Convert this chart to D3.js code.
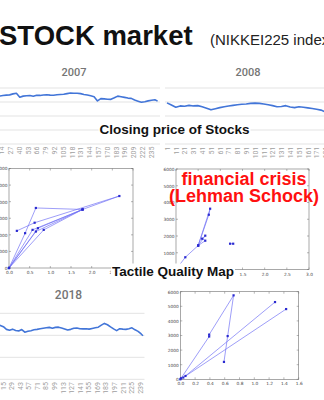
<!DOCTYPE html>
<html><head><meta charset="utf-8">
<script src="https://cdn.jsdelivr.net/npm/d3@7/dist/d3.min.js"></script>
<style>html,body{margin:0;padding:0;background:#fff;overflow:hidden}svg{display:block}</style>
</head><body>
<svg id="chart" width="324" height="400"></svg>
<script>
// ---------- texts ----------
const mainTitle = "STOCK market";
const subTitle = "(NIKKEI225 index)";
const sectionTitles = ["Closing price of Stocks", "Tactile Quality Map"];
const crisisLabel = ["financial crisis", "(Lehman Schock)"];
const yearTitles = ["2007", "2008", "2018"];

// ---------- closing prices (trading-day index, yen) ----------
const days2007 = [1,6,11,16,21,26,31,36,41,46,51,56,61,66,71,76,81,86,91,96,101,106,111,116,121,126,131,136,141,146,151,156,161,166,171,176,181,186,191,196,201,206,211,216,221,226,231,236,241,245];
const close2007 = [17350,17200,17100,17300,17450,17550,17900,18150,16700,17100,
                   17250,17300,17050,17400,17350,17500,17600,17450,17400,17600,
                   17700,17750,18000,18200,18100,18150,18000,17700,17500,17200,
                   16900,15400,16200,16100,16000,15950,16500,17100,16900,16650,
                   16400,16300,15700,15300,14900,15100,15400,15600,15800,15300];
const ticks2007 = [1,14,27,40,53,66,79,92,105,118,131,144,157,170,183,196,209,222,235];

const days2008 = [1,6,11,16,21,26,31,36,41,46,51,56,61,66,71,76,81,86,91,96,101,106,111,116,121,126,131,136,141,146,151,156,161,166,171,176,181,185];
const close2008 = [14700,13900,13100,13600,13500,13800,13600,13700,13300,12800,
                   12200,12600,13000,13300,13600,13800,14000,14200,14300,14500,
                   14600,14500,14300,14000,13700,13300,13400,13700,13200,13000,
                   13300,13100,12900,12700,12400,12100,11500,11300];
const ticks2008 = [1,11,21,31,41,51,61,71,81,91,101,111,121,131,141,151,161,171,181,191];

const days2018 = [1,6,11,16,21,26,31,36,41,46,51,56,61,66,71,76,81,86,91,96,101,106,111,116,121,126,131,136,141,146,151,156,161,166,171,176,181,186,191,196,201,206,211,216,221,226,231,236,241,244];
const close2018 = [23700,24000,24500,23900,22700,22300,22800,22200,22000,22600,
                   21400,21800,22100,22500,22700,23000,23200,23400,23600,23200,
                   23600,23700,23300,22900,22400,22700,23200,23300,23000,22900,
                   23000,22800,23100,23400,23700,24600,25400,24800,23800,22900,
                   22100,23000,22800,22700,23000,23400,22500,21800,20600,19800];
const ticks2018 = [1,15,29,43,57,71,85,99,113,127,141,155,169,183,197,211,225,239];

const grid2007 = [0,5000,10000,15000,20000];
const grid2018 = [0,10000,20000,30000];

// ---------- tactile quality maps (points in drawing order, null = break) ----------
const map2007X = [0, 0.84, 1.78, 0.70, 0, 0.65, 1.78, 0.57, 0, 0.39, 0.65, 1.78, 2.67, 0.62, 0.19];
const map2007Y = [0, 2300, 3530, 2400, 0, 2200, 3530, 2300, 0, 2100, 3620, 3530, 4340, 2730, 2240];
const map2008X = [0, 0.21, 0.50, 0.77, 0.74, 0.50, 0.66, 0.59, 0.66, 0.50, null, 1.22, 1.29];
const map2008Y = [0, 730, 1430, 3630, 3270, 1430, 2020, 1840, 1720, 1430, null, 1540, 1540];
const map2018X = [0, 0.01, 0.39, 0.39, 0.72, 0.64, 0.59, null, 0.07, 1.28, null, 0.04, 1.43];
const map2018Y = [0, 70, 2930, 3060, 5750, 2960, 1190, null, 230, 5290, null, 120, 4810];
const mapTicksX1 = [0, 0.5, 1.0, 1.5, 2.0, 2.5, 3.0];
const mapTicksX3 = [0, 0.2, 0.4, 0.6, 0.8, 1.0, 1.2, 1.4, 1.6];
const mapTicksY = [0, 1000, 2000, 3000, 4000, 5000, 6000];
// x tick labels left visible (the others sit under the "Tactile Quality Map" heading)
const mapLabelsX1 = [0, 0.5, 1.0, 1.5, 2.0, 2.5];
const mapLabelsX2 = [1.5, 2.0, 2.5, 3.0];
const mapLabelsX3 = mapTicksX3;

// ---------- drawing ----------
const svg = d3.select("#chart");
const SANS = "'Liberation Sans', Arial, Helvetica, sans-serif";
const ROBOTO = "Roboto, Arial, sans-serif";

function lineChart(o) {
  const x = d3.scaleLinear().domain([1, 245]).range(o.xr);
  const y = d3.scaleLinear().domain([0, o.ymax]).range(o.yr);
  const g = svg.append("g");
  g.selectAll("line.grid").data(o.grid).join("line")
    .attr("x1", o.gx[0]).attr("x2", o.gx[1])
    .attr("y1", d => y(d)).attr("y2", d => y(d))
    .attr("stroke", "#e3e3e3").attr("stroke-width", 1);
  const data = o.days.map((d, i) => ({d, v: o.vals[i]}));
  g.append("path").datum(data)
    .attr("d", d3.line().x(p => x(p.d)).y(p => y(p.v)))
    .attr("fill", "none").attr("stroke", "#4275d8").attr("stroke-width", 1.6)
    .attr("stroke-linejoin", "round");
  const ax = g.append("g").attr("transform", `translate(0,${o.labelY})`)
    .call(d3.axisBottom(x).tickValues(o.ticks).tickSize(0).tickFormat(d3.format("d")));
  ax.select(".domain").remove();
  ax.selectAll("text")
    .attr("transform", "rotate(-90)").attr("text-anchor", "end")
    .attr("x", 0).attr("y", 0).attr("dy", "0.33em")
    .attr("fill", "#a0a0a0").style("font-size", "7px").style("font-family", ROBOTO);
  g.append("text").attr("x", o.tx).attr("y", o.ty).attr("text-anchor", "middle")
    .attr("fill", "#757575").style("font-size", o.tsize + "px").style("font-family", ROBOTO)
    .style("font-weight", "500").text(o.title);
}

lineChart({days: days2007, vals: close2007, ticks: ticks2007, grid: grid2007, ymax: 20000,
  xr: [-7.25, 157.6], yr: [144, 88], gx: [-2, 160], labelY: 146.5,
  tx: 74, ty: 75.5, tsize: 11, title: yearTitles[0]});
lineChart({days: days2008, vals: close2008, ticks: ticks2008, grid: grid2007, ymax: 20000,
  xr: [167, 381.7], yr: [144, 88], gx: [165, 330], labelY: 146.5,
  tx: 248, ty: 75.5, tsize: 11, title: yearTitles[1]});
lineChart({days: days2018, vals: close2018, ticks: ticks2018, grid: grid2018, ymax: 30000,
  xr: [-5.8, 143.6], yr: [379.3, 313.3], gx: [-2, 144.5], labelY: 382,
  tx: 68.5, ty: 299, tsize: 12, title: yearTitles[2]});

function mapChart(o) {
  const x = d3.scaleLinear().domain(o.xdom).range(o.xr);
  const y = d3.scaleLinear().domain([0, 6000]).range(o.yr);
  const g = svg.append("g");
  g.append("rect").attr("x", o.xr[0]).attr("y", o.yr[1])
    .attr("width", o.xr[1] - o.xr[0]).attr("height", o.yr[0] - o.yr[1])
    .attr("fill", "none").attr("stroke", "#6f6f6f").attr("stroke-width", 0.6);
  o.xt.forEach(t => {
    g.append("line").attr("x1", x(t)).attr("x2", x(t)).attr("y1", o.yr[0]).attr("y2", o.yr[0] - 2)
      .attr("stroke", "#6f6f6f").attr("stroke-width", 0.5);
    g.append("line").attr("x1", x(t)).attr("x2", x(t)).attr("y1", o.yr[1]).attr("y2", o.yr[1] + 2)
      .attr("stroke", "#6f6f6f").attr("stroke-width", 0.5);
  });
  mapTicksY.forEach(t => {
    g.append("line").attr("x1", o.xr[0]).attr("x2", o.xr[0] + 2).attr("y1", y(t)).attr("y2", y(t))
      .attr("stroke", "#6f6f6f").attr("stroke-width", 0.5);
    g.append("line").attr("x1", o.xr[1]).attr("x2", o.xr[1] - 2).attr("y1", y(t)).attr("y2", y(t))
      .attr("stroke", "#6f6f6f").attr("stroke-width", 0.5);
  });
  const xa = g.append("g").attr("transform", `translate(0,${o.yr[0]})`)
    .call(d3.axisBottom(x).tickValues(o.xl).tickSize(0).tickPadding(3).tickFormat(d3.format(".1f")));
  xa.select(".domain").remove();
  xa.selectAll("text").attr("fill", "#444").style("font-size", "4.3px").style("font-family", "'DejaVu Sans', sans-serif");
  const ya = g.append("g").attr("transform", `translate(${o.xr[0]},0)`)
    .call(d3.axisLeft(y).tickValues(mapTicksY).tickSize(0).tickPadding(1.5).tickFormat(d3.format("d")));
  ya.select(".domain").remove();
  ya.selectAll("text").attr("fill", "#444").style("font-size", "4.3px").style("font-family", "'DejaVu Sans', sans-serif");
  const pts = o.xs.map((v, i) => ({x: v, y: o.ys[i]}));
  g.append("path").datum(pts)
    .attr("d", d3.line().defined(p => p.x !== null).x(p => x(p.x)).y(p => y(p.y)))
    .attr("fill", "none").attr("stroke", "#6f6ff5").attr("stroke-width", 0.8).attr("stroke-opacity", 0.85);
  g.selectAll("rect.pt").data(pts.filter(p => p.x !== null)).join("rect")
    .attr("x", p => x(p.x) - 1.1).attr("y", p => y(p.y) - 1.1)
    .attr("width", 2.2).attr("height", 2.2).attr("fill", "#2a2ad0");
}

mapChart({xs: map2007X, ys: map2007Y, xdom: [0, 3], xt: mapTicksX1, xl: mapLabelsX1, xr: [9, 133], yr: [268, 168.5]});
mapChart({xs: map2008X, ys: map2008Y, xdom: [0, 3], xt: mapTicksX1, xl: mapLabelsX2, xr: [176, 309], yr: [269.5, 169]});
mapChart({xs: map2018X, ys: map2018Y, xdom: [0, 1.6], xt: mapTicksX3, xl: mapLabelsX3, xr: [180.3, 298.7], yr: [379.3, 291.7]});

function boxedText(txt, cx, by, size) {
  const t = svg.append("text").attr("x", cx).attr("y", by).attr("text-anchor", "middle")
    .style("font-family", SANS).style("font-weight", "bold").style("font-size", size + "px")
    .attr("fill", "#111").text(txt);
  const b = t.node().getBBox();
  svg.insert("rect", () => t.node()).attr("x", b.x - 1).attr("y", b.y)
    .attr("width", b.width + 2).attr("height", b.height).attr("fill", "#fff");
}
boxedText(sectionTitles[0], 174.5, 133.5, 13.5);
boxedText(sectionTitles[1], 173, 275.5, 13.5);

crisisLabel.forEach((s, i) => {
  svg.append("text").attr("x", 244).attr("y", 185 + i * 16.5).attr("text-anchor", "middle")
    .style("font-family", SANS).style("font-weight", "bold").style("font-size", "18px")
    .attr("fill", "#ff1010").text(s);
});

svg.append("text").attr("x", -1).attr("y", 45).style("font-family", SANS)
  .style("font-weight", "bold").style("font-size", "27.5px").attr("fill", "#111").text(mainTitle);
svg.append("text").attr("x", 210).attr("y", 45).style("font-family", SANS)
  .style("font-size", "15px").attr("fill", "#222").text(subTitle);
</script>
</body></html>
